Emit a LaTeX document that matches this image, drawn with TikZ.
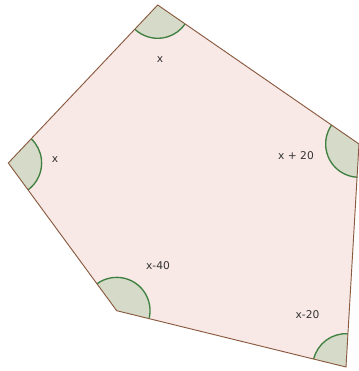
\documentclass[tikz,border=0pt]{standalone}
\usepackage{fontspec}
\setmainfont{DejaVu Sans}
\usetikzlibrary{angles}
\definecolor{polyfill}{HTML}{F8E9E6}
\definecolor{polyedge}{HTML}{8A5A40}
\definecolor{anglefill}{HTML}{D5DBC8}
\definecolor{angleedge}{HTML}{3F8040}
\definecolor{labelgray}{HTML}{333333}
\tikzset{
  anglemark/.style={draw=angleedge, fill=anglefill, line width=1pt, angle radius=25pt},
  anglelabel/.style={text=labelgray, font=\fontsize{8}{10}\selectfont, inner sep=0pt}
}
\begin{document}
\begin{tikzpicture}[x=0.75pt,y=0.75pt]
    \useasboundingbox (0,0) rectangle (358,371);
    \coordinate (T) at (157.7,366);
    \coordinate (R) at (359,227);
    \coordinate (BR) at (346,4);
    \coordinate (BL) at (116.7,60.3);
    \coordinate (L) at (8.3,208);
    \fill[polyfill] (T) -- (R) -- (BR) -- (BL) -- (L) -- cycle;
    \foreach \a/\b/\c in {L/T/R,T/R/BR,R/BR/BL,BR/BL/L,BL/L/T} {
        \pic[anglemark] {angle=\a--\b--\c};
    }
    \draw[polyedge, line width=0.7pt] (T) -- (R) -- (BR) -- (BL) -- (L) -- cycle;
    \foreach \n/\x/\y/\t in {top/160/311/x,left/55/211/x,right/296/215/x + 20,botleft/158/105/x-40,botright/307.5/56/x-20} {
        \node[anglelabel] (\n) at (\x,\y) {\t};
    }
\end{tikzpicture}
\end{document}
